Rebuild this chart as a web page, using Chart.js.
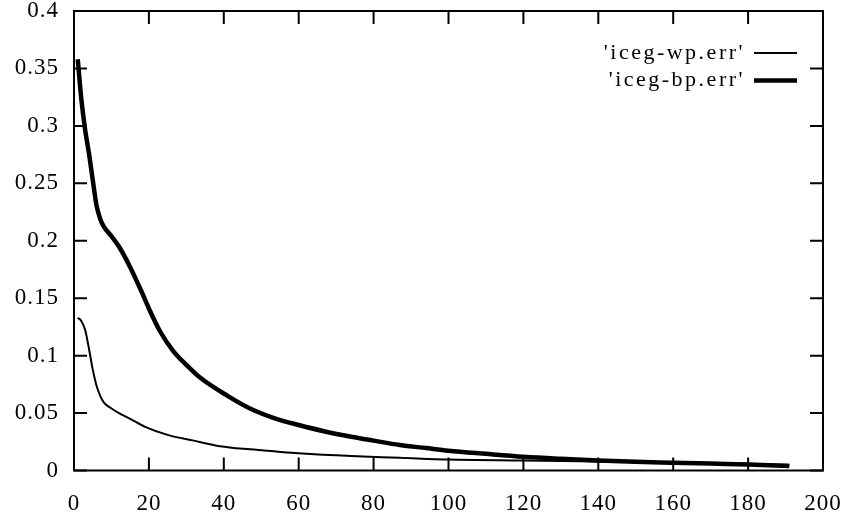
<!DOCTYPE html>
<html>
<head>
<meta charset="utf-8">
<script src="https://cdn.jsdelivr.net/npm/chart.js@4/dist/chart.umd.min.js"></script>
<style>
  html, body { margin: 0; padding: 0; background: #fff; }
  #wrap { width: 846px; height: 517px; }
</style>
</head>
<body>
<div id="wrap"><canvas id="errChart"></canvas></div>
<script>
// data
const wpX = [1, 2, 3, 4, 5, 6, 7, 8, 10, 12, 15, 19, 25, 32, 39, 47, 54, 60, 74, 87, 100, 120, 140, 160, 180, 191];
const wpY = [0.133, 0.130, 0.122, 0.106, 0.088, 0.074, 0.065, 0.059, 0.054, 0.050, 0.045, 0.038, 0.031, 0.026, 0.0212, 0.0184, 0.0165, 0.0150, 0.0126, 0.0111, 0.0095, 0.0087, 0.0078, 0.0067, 0.0058, 0.0050];

const bpX = [1, 2, 3, 4, 5, 6, 7, 8, 10, 12, 15, 18, 20, 23, 26.5, 30, 34, 41, 47, 54, 60, 67, 74, 80, 87, 94, 100, 110, 120, 130, 140, 150, 160, 170, 180, 191];
const bpY = [0.358, 0.322, 0.296, 0.276, 0.253, 0.231, 0.219, 0.212, 0.204, 0.195, 0.177, 0.156, 0.141, 0.121, 0.104, 0.092, 0.080, 0.065, 0.054, 0.045, 0.0396, 0.034, 0.0294, 0.026, 0.0222, 0.0195, 0.0172, 0.0145, 0.0120, 0.0102, 0.0087, 0.0076, 0.0068, 0.0060, 0.0053, 0.0040];

const xTicks = [0, 20, 40, 60, 80, 100, 120, 140, 160, 180, 200];
const yTicks = [0, 0.05, 0.1, 0.15, 0.2, 0.25, 0.3, 0.35, 0.4];
const seriesNames = ["'iceg-wp.err'", "'iceg-bp.err'"];

const FONT = '"Liberation Serif", "Times New Roman", serif';

function toPoints(xs, ys) {
  return xs.map((x, i) => ({ x: x, y: ys[i] }));
}

// frame, inward ticks on all 4 sides, gnuplot style key
const gnuplotFrame = {
  id: 'gnuplotFrame',
  beforeDraw(chart) {
    chart.ctx.letterSpacing = '1px';
  },
  afterDraw(chart) {
    const ctx = chart.ctx;
    const a = chart.chartArea;
    const xs = chart.scales.x, ys = chart.scales.y;
    const len = 13;
    ctx.save();
    ctx.strokeStyle = '#000';
    ctx.lineWidth = 2;
    ctx.strokeRect(a.left, a.top, a.right - a.left, a.bottom - a.top);
    ctx.beginPath();
    xTicks.forEach(v => {
      const px = xs.getPixelForValue(v);
      ctx.moveTo(px, a.bottom); ctx.lineTo(px, a.bottom - len);
      ctx.moveTo(px, a.top); ctx.lineTo(px, a.top + len);
    });
    yTicks.forEach(v => {
      const py = ys.getPixelForValue(v);
      ctx.moveTo(a.left, py); ctx.lineTo(a.left + len, py);
      ctx.moveTo(a.right, py); ctx.lineTo(a.right - len, py);
    });
    ctx.stroke();

    // key
    ctx.font = '22px ' + FONT;
    ctx.letterSpacing = '2.5px';
    ctx.fillStyle = '#000';
    ctx.textAlign = 'right';
    ctx.textBaseline = 'middle';
    chart.data.datasets.forEach((ds, i) => {
      const y = 53 + i * 27.5;
      ctx.fillText(ds.label, 745, y);
      ctx.lineWidth = ds.borderWidth;
      ctx.beginPath();
      ctx.moveTo(754, y); ctx.lineTo(797, y);
      ctx.stroke();
    });
    ctx.restore();
  }
};

new Chart(document.getElementById('errChart'), {
  type: 'line',
  data: {
    datasets: [{
      label: seriesNames[0],
      data: toPoints(wpX, wpY),
      borderColor: '#000',
      borderWidth: 2,
      pointRadius: 0,
      cubicInterpolationMode: 'monotone'
    }, {
      label: seriesNames[1],
      data: toPoints(bpX, bpY),
      borderColor: '#000',
      borderWidth: 4.5,
      pointRadius: 0,
      cubicInterpolationMode: 'monotone'
    }]
  },
  options: {
    responsive: true,
    maintainAspectRatio: false,
    animation: false,
    layout: { padding: { top: 11, right: 23, left: 0, bottom: 0 } },
    plugins: { legend: { display: false }, tooltip: { enabled: false } },
    scales: {
      x: {
        type: 'linear', min: 0, max: 200,
        afterBuildTicks: s => { s.ticks = xTicks.map(v => ({ value: v })); },
        afterFit: s => { s.height = 46.5; s.paddingLeft = 0; s.paddingRight = 0; },
        grid: { display: false, drawTicks: false },
        border: { display: false },
        ticks: { color: '#000', padding: 20, font: { family: FONT, size: 23 } }
      },
      y: {
        type: 'linear', min: 0, max: 0.4,
        afterBuildTicks: s => { s.ticks = yTicks.map(v => ({ value: v })); },
        afterFit: s => { s.width = 74; s.paddingTop = 0; s.paddingBottom = 0; },
        grid: { display: false, drawTicks: false },
        border: { display: false },
        ticks: { color: '#000', padding: 15, font: { family: FONT, size: 23 },
          callback: v => String(Math.round(v * 100) / 100) }
      }
    }
  },
  plugins: [gnuplotFrame]
});
</script>
</body>
</html>
